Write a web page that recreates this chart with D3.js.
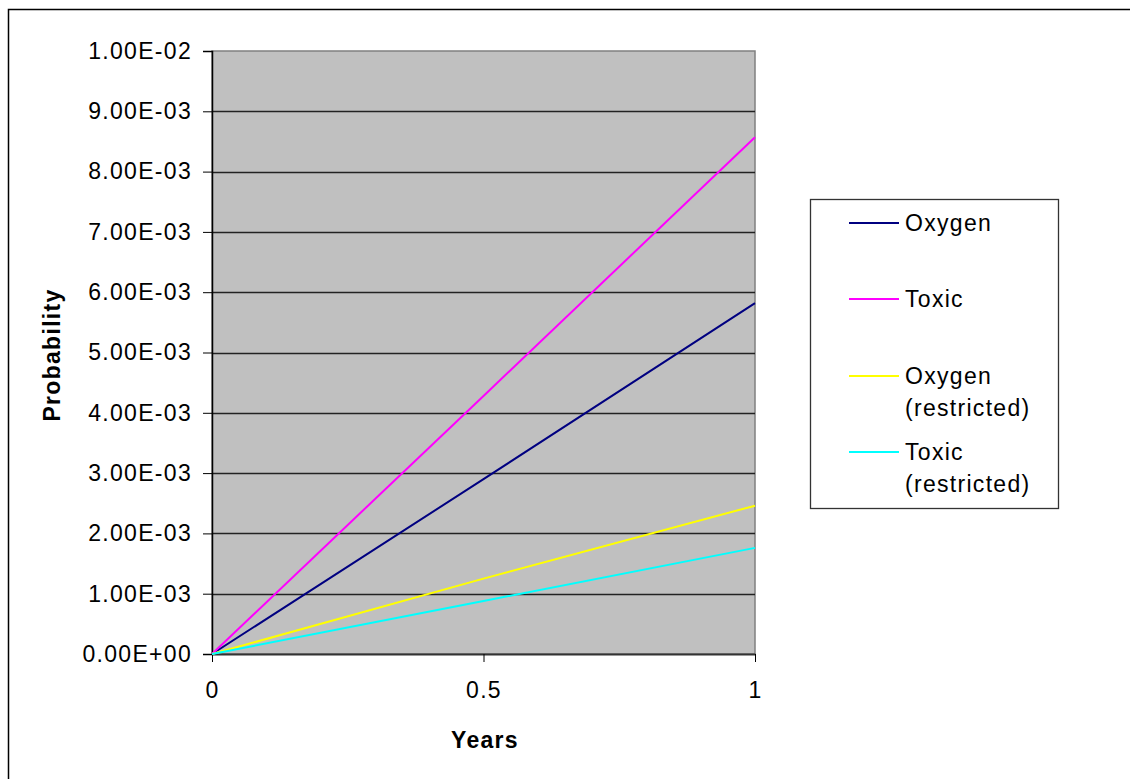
<!DOCTYPE html>
<html>
<head>
<meta charset="utf-8">
<script src="https://cdn.jsdelivr.net/npm/d3@7"></script>
<style>
  body { margin: 0; background: #fff; }
  text { font-family: "Liberation Sans", Arial, sans-serif; }
</style>
</head>
<body>
<div id="chart"></div>
<script>
// data
const years = [0, 0.5, 1];
const oxygen = [0, 2.90e-3, 5.82e-3];
const toxic = [0, 4.28e-3, 8.57e-3];
const oxygenRestricted = [0, 1.25e-3, 2.46e-3];
const toxicRestricted = [0, 0.88e-3, 1.76e-3];
const yTicks = [0, 1e-3, 2e-3, 3e-3, 4e-3, 5e-3, 6e-3, 7e-3, 8e-3, 9e-3, 1e-2];
const xTicks = [0, 0.5, 1];

const series = [
  { name: ["Oxygen"], values: oxygen, color: "#000080" },
  { name: ["Toxic"], values: toxic, color: "#ff00ff" },
  { name: ["Oxygen", "(restricted)"], values: oxygenRestricted, color: "#ffff00" },
  { name: ["Toxic", "(restricted)"], values: toxicRestricted, color: "#00ffff" }
];

const W = 1130, H = 779;
const plotLeft = 212, plotRight = 755, plotTop = 51, plotBottom = 654;
const fontSize = 23, spacing = "1.3px";

const svg = d3.select("#chart")
  .append("svg")
  .attr("width", W)
  .attr("height", H);

// outer chart frame (only top/left visible)
svg.append("rect")
  .attr("x", 8.5).attr("y", 9.5)
  .attr("width", W + 20).attr("height", H + 20)
  .attr("fill", "none")
  .attr("stroke", "#000")
  .attr("stroke-width", 1.5);

const x = d3.scaleLinear().domain([0, 1]).range([plotLeft, plotRight]);
const y = d3.scaleLinear().domain([0, 0.01]).range([plotBottom, plotTop]);

// plot area
svg.append("rect")
  .attr("x", plotLeft).attr("y", plotTop)
  .attr("width", plotRight - plotLeft).attr("height", plotBottom - plotTop)
  .attr("fill", "#c0c0c0")
  .attr("stroke", "#808080")
  .attr("stroke-width", 1.5);

// gridlines
svg.selectAll("line.grid")
  .data(yTicks.slice(1, -1))
  .enter()
  .append("line")
  .attr("class", "grid")
  .attr("x1", plotLeft).attr("x2", plotRight)
  .attr("y1", d => Math.round(y(d)) + 0.5)
  .attr("y2", d => Math.round(y(d)) + 0.5)
  .attr("stroke", "#222")
  .attr("stroke-width", 1.3);

// y axis
const axisY = d3.axisLeft(y)
  .tickValues(yTicks)
  .tickSize(9)
  .tickPadding(11)
  .tickFormat(d => {
    let s = d3.format(".2e")(d).toUpperCase();
    // 1.00E-2 -> 1.00E-02
    return s.replace(/E([+-])(\d)$/, "E$10$2");
  });

svg.append("g")
  .attr("transform", `translate(${plotLeft},0)`)
  .call(axisY)
  .call(g => g.select(".domain").attr("stroke", "#000").attr("stroke-width", 1.5))
  .call(g => g.selectAll(".tick line").attr("stroke", "#000"))
  .call(g => g.selectAll("text")
    .attr("font-size", fontSize)
    .attr("fill", "#000")
    .style("letter-spacing", spacing)
    .style("font-family", "'Liberation Sans', Arial, sans-serif"));

// x axis
const axisX = d3.axisBottom(x)
  .tickValues(xTicks)
  .tickSize(8)
  .tickPadding(20)
  .tickSizeOuter(0)
  .tickFormat(d => String(d));

svg.append("g")
  .attr("transform", `translate(0,${plotBottom})`)
  .call(axisX)
  .call(g => g.select(".domain").attr("stroke", "#333").attr("stroke-width", 2))
  .call(g => g.selectAll(".tick line").attr("stroke", "#000"))
  .call(g => g.selectAll("text")
    .attr("font-size", fontSize)
    .attr("fill", "#000")
    .style("letter-spacing", spacing)
    .style("font-family", "'Liberation Sans', Arial, sans-serif"));

// lines
const line = d3.line()
  .x((d, i) => x(years[i]))
  .y(d => y(d));

svg.selectAll("path.series")
  .data(series)
  .enter()
  .append("path")
  .attr("class", "series")
  .attr("d", d => line(d.values))
  .attr("fill", "none")
  .attr("stroke", d => d.color)
  .attr("stroke-width", 2);

// axis titles
svg.append("text")
  .attr("x", 485).attr("y", 748)
  .attr("text-anchor", "middle")
  .attr("font-size", fontSize)
  .attr("font-weight", "bold")
  .style("letter-spacing", spacing)
  .text("Years");

svg.append("text")
  .attr("transform", "translate(60,355) rotate(-90)")
  .attr("text-anchor", "middle")
  .attr("font-size", fontSize)
  .attr("font-weight", "bold")
  .style("letter-spacing", spacing)
  .text("Probability");

// legend
svg.append("rect")
  .attr("x", 810.5).attr("y", 199.5)
  .attr("width", 248).attr("height", 309)
  .attr("fill", "#fff")
  .attr("stroke", "#333")
  .attr("stroke-width", 1.3);

const legendY = [223, 299, 376, 452];
const item = svg.selectAll("g.legend")
  .data(series)
  .enter()
  .append("g")
  .attr("class", "legend")
  .attr("transform", (d, i) => `translate(849,${legendY[i]})`);

item.append("line")
  .attr("x1", 0).attr("x2", 50)
  .attr("stroke", d => d.color)
  .attr("stroke-width", 2);

item.append("text")
  .attr("x", 56)
  .attr("font-size", fontSize)
  .style("letter-spacing", spacing)
  .selectAll("tspan")
  .data(d => d.name)
  .enter()
  .append("tspan")
  .attr("x", 56)
  .attr("y", (d, i) => 8 + i * 32)
  .text(d => d);
</script>
</body>
</html>
